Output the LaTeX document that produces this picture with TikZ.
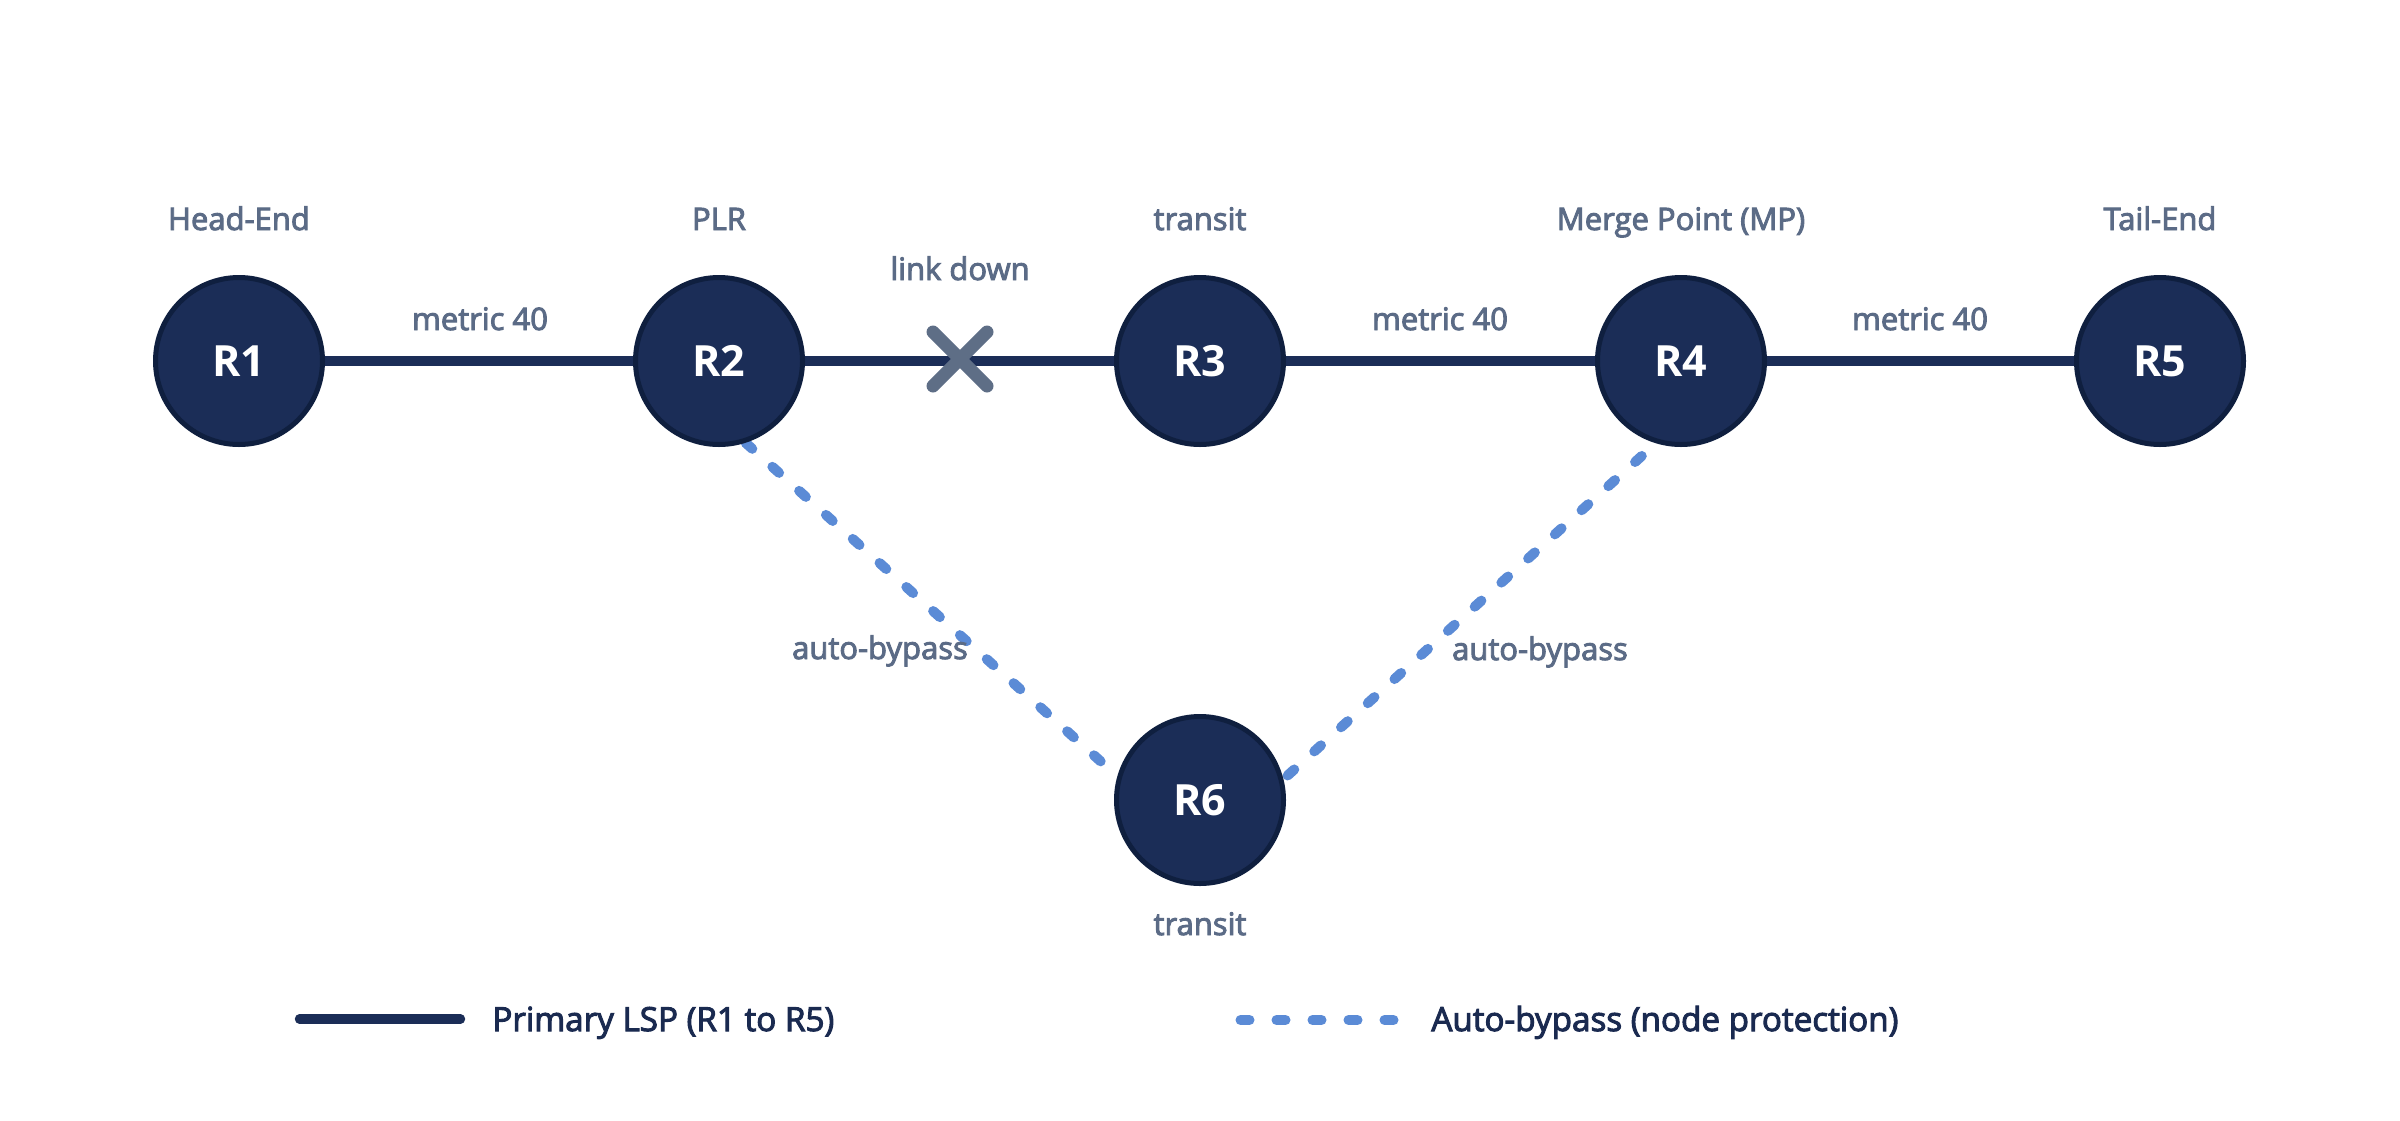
\documentclass[tikz,border=0pt]{standalone}
\usepackage{fontspec}
\setmainfont{Open Sans}
\newfontfamily\semifont{Open Sans}[FakeBold=3]
\definecolor{navy}{HTML}{1B2D57}
\definecolor{nodeborder}{HTML}{0F1F3F}
\definecolor{labelgray}{HTML}{5B6B86}
\definecolor{xgray}{HTML}{5E6E86}
\definecolor{bypassblue}{HTML}{5B8BD6}
\definecolor{legendtext}{HTML}{1A2A50}
\pgfdeclarelayer{bg}
\pgfsetlayers{bg,main}
\tikzset{
  router/.style={circle, fill=navy, draw=nodeborder, line width=2.5pt, minimum size=83.5pt, inner sep=0pt, text=white, font=\bfseries\fontsize{21.5}{26}\selectfont},
  lbl/.style={text=labelgray, font=\semifont\fontsize{15.5}{18}\selectfont, anchor=base, inner sep=0pt},
  primary/.style={draw=navy, line width=4.7pt},
  bypass/.style={draw=bypassblue, line width=5pt, line cap=round, dash pattern=on 4.5pt off 13.5pt},
  xmark/.style={draw=xgray, line width=6.5pt, line cap=round},
  legtext/.style={text=legendtext, font=\semifont\fontsize{16.6}{20}\selectfont, anchor=base west, inner sep=0pt}
}
\begin{document}
\begin{tikzpicture}[x=0.5pt,y=-0.5pt]
\useasboundingbox (0,0) rectangle (2400,1120);
% routers
\node[router] (R1) at (239,361) {R1};
\node[router] (R2) at (719,361) {R2};
\node[router] (R3) at (1200,361) {R3};
\node[router] (R4) at (1681,361) {R4};
\node[router] (R5) at (2160,361) {R5};
\node[router] (R6) at (1200,800) {R6};
% role labels
\node[lbl] (tHead) at (239,230) {Head-End};
\node[lbl] (tPLR) at (719,230) {PLR};
\node[lbl] (tTr3) at (1200,230) {transit};
\node[lbl] (tMP) at (1681,230) {Merge Point (MP)};
\node[lbl] (tTail) at (2160,230) {Tail-End};
\node[lbl] (tTr6) at (1200,935) {transit};
% link labels
\node[lbl] (m12) at (480,330) {metric 40};
\node[lbl] (ld) at (960,280) {link down};
\node[lbl] (m34) at (1440,330) {metric 40};
\node[lbl] (m45) at (1920,330) {metric 40};
\node[lbl] (ab1) at (880,659) {auto-bypass};
\node[lbl] (ab2) at (1540,660) {auto-bypass};
% connectors
\begin{pgfonlayer}{bg}
\fill[white] (0,0) rectangle (2400,1120);
\draw[primary] (R1.center) -- (R2.center);
\draw[primary] (R2.center) -- (R3.center);
\draw[primary] (R3.center) -- (R4.center);
\draw[primary] (R4.center) -- (R5.center);
\draw[bypass] (R2.-72.6) -- (R6.164.5);
\draw[bypass, dash phase=8.5pt] (R4.-107.6) -- (R6.14.1);
\end{pgfonlayer}
% link-down mark
\coordinate (X) at (960,359);
\draw[xmark] ([shift={(-27,-27)}]X) -- ([shift={(27,27)}]X);
\draw[xmark] ([shift={(-27,27)}]X) -- ([shift={(27,-27)}]X);
% legend
\coordinate (la) at (299.5,1019);
\coordinate (lb) at (460.5,1019);
\draw[primary, line cap=round] (la) -- (lb);
\node[legtext] (lt1) at (492,1031) {Primary LSP (R1 to R5)};
\coordinate (lc) at (1240.5,1020);
\coordinate (ld2) at (1396,1020);
\draw[bypass] (lc) -- (ld2);
\node[legtext] (lt2) at (1431,1031) {Auto-bypass (node protection)};
\end{tikzpicture}
\end{document}
